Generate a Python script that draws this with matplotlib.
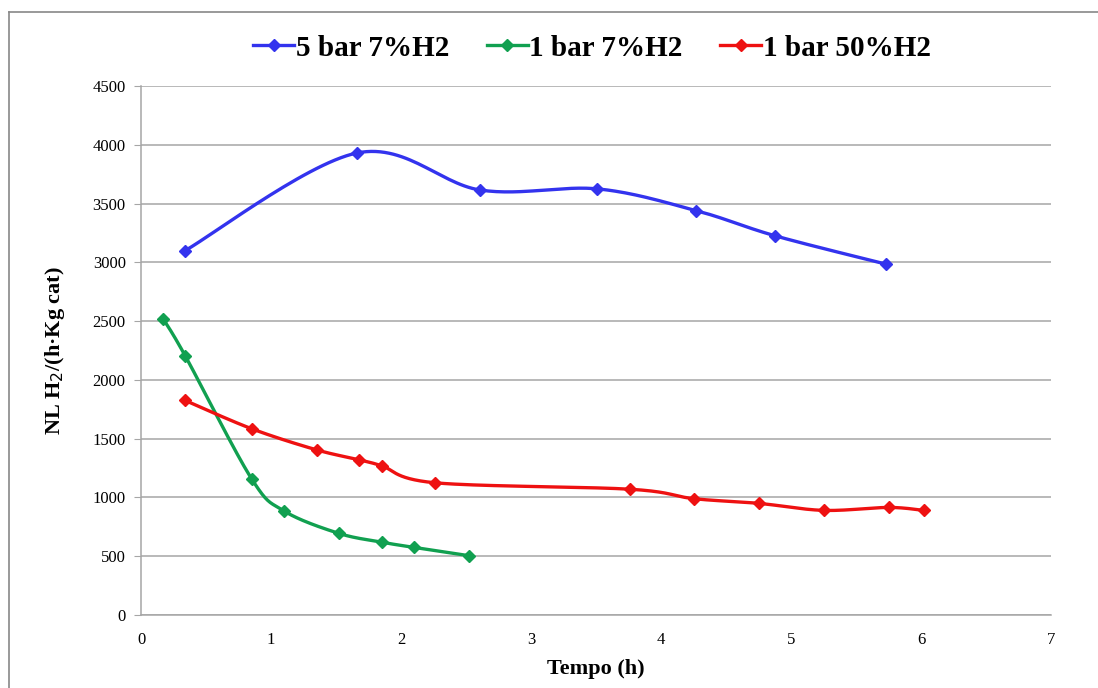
import numpy as np
import matplotlib
matplotlib.use("Agg")
import matplotlib.pyplot as plt
from matplotlib.lines import Line2D

# Hydrogen production over time for three operating conditions
t_5bar_7 = [0.34, 1.66, 2.61, 3.51, 4.27, 4.88, 5.73]
v_5bar_7 = [3100, 3930, 3615, 3625, 3440, 3225, 2985]

t_1bar_7 = [0.17, 0.34, 0.85, 1.10, 1.52, 1.85, 2.10, 2.52]
v_1bar_7 = [2520, 2205, 1160, 885, 695, 620, 575, 505]

t_1bar_50 = [0.34, 0.85, 1.35, 1.68, 1.85, 2.26, 3.76, 4.25, 4.75, 5.25, 5.75, 6.02]
v_1bar_50 = [1825, 1585, 1405, 1320, 1270, 1125, 1070, 990, 950, 890, 915, 890]

labels = ["5 bar 7%H2", "1 bar 7%H2", "1 bar 50%H2"]
colors = ["#3333ee", "#11a050", "#ee1111"]

x_ticks = list(range(0, 8))
y_ticks = list(range(0, 4501, 500))


def smooth(xs, ys, n=30, tension=0.5):
    """Cardinal spline through the points (curved line joining markers)."""
    p = np.column_stack([xs, ys]).astype(float)
    if len(p) < 3:
        return p[:, 0], p[:, 1]
    ext = np.vstack([p[0], p, p[-1]])
    out = []
    for i in range(1, len(ext) - 2):
        p0, p1, p2, p3 = ext[i - 1], ext[i], ext[i + 1], ext[i + 2]
        m1 = tension * (p2 - p0)
        m2 = tension * (p3 - p1)
        s = np.linspace(0, 1, n, endpoint=(i == len(ext) - 3))[:, None]
        h00 = 2 * s**3 - 3 * s**2 + 1
        h10 = s**3 - 2 * s**2 + s
        h01 = -2 * s**3 + 3 * s**2
        h11 = s**3 - s**2
        out.append(h00 * p1 + h10 * m1 + h01 * p2 + h11 * m2)
    c = np.vstack(out)
    return c[:, 0], c[:, 1]


W, H = 1098, 688
fig = plt.figure(figsize=(W / 100, H / 100), dpi=100)
plt.rcParams["font.family"] = ["Liberation Serif", "DejaVu Serif"]

# outer frame (top and left edges visible)
fig.add_artist(Line2D([9 / W, 9 / W], [0, 1 - 12 / H], color="#888888", lw=1.2,
                      transform=fig.transFigure))
fig.add_artist(Line2D([9 / W, 1], [1 - 12 / H, 1 - 12 / H], color="#888888", lw=1.2,
                      transform=fig.transFigure))

ax = fig.add_axes([141 / W, (H - 615) / H, (1051 - 141) / W, (615 - 86) / H])

series = [(t_5bar_7, v_5bar_7), (t_1bar_7, v_1bar_7), (t_1bar_50, v_1bar_50)]
handles = []
for (xs, ys), lab, col in zip(series, labels, colors):
    sx, sy = smooth(xs, ys)
    ax.plot(sx, sy, color=col, lw=2.4, solid_capstyle="round", zorder=3)
    ax.plot(xs, ys, linestyle="none", marker="D", ms=6, color=col, zorder=4)
    handles.append(Line2D([], [], color=col, lw=2.4, marker="D", ms=6))

ax.set_xlim(0, 7)
ax.set_ylim(0, 4500)
ax.set_xticks(x_ticks)
ax.set_yticks(y_ticks)
ax.yaxis.grid(True, color="#a6a6a6", lw=1.1)
ax.set_axisbelow(True)
for s in ["top", "right"]:
    ax.spines[s].set_visible(False)
for s in ["left", "bottom"]:
    ax.spines[s].set_color("#a6a6a6")
    ax.spines[s].set_linewidth(1.1)
ax.tick_params(axis="y", direction="out", length=5, color="#a6a6a6",
               labelsize=12, pad=6)
ax.tick_params(axis="x", length=0, labelsize=12, pad=12)

ax.set_xlabel("Tempo (h)", fontsize=16, fontweight="bold", labelpad=8)
ax.set_ylabel("NL H$_2$/(h·Kg cat)", fontsize=16, fontweight="bold")
ax.yaxis.set_label_coords(-74 / 910, 0.5)

fig.legend(handles, labels, loc="center", bbox_to_anchor=(592 / W, 1 - 48 / H),
           ncol=3, frameon=False, prop={"size": 21, "weight": "bold"},
           handlelength=1.4, handletextpad=0.05, columnspacing=1.3)

fig.savefig("out.png", dpi=100)
